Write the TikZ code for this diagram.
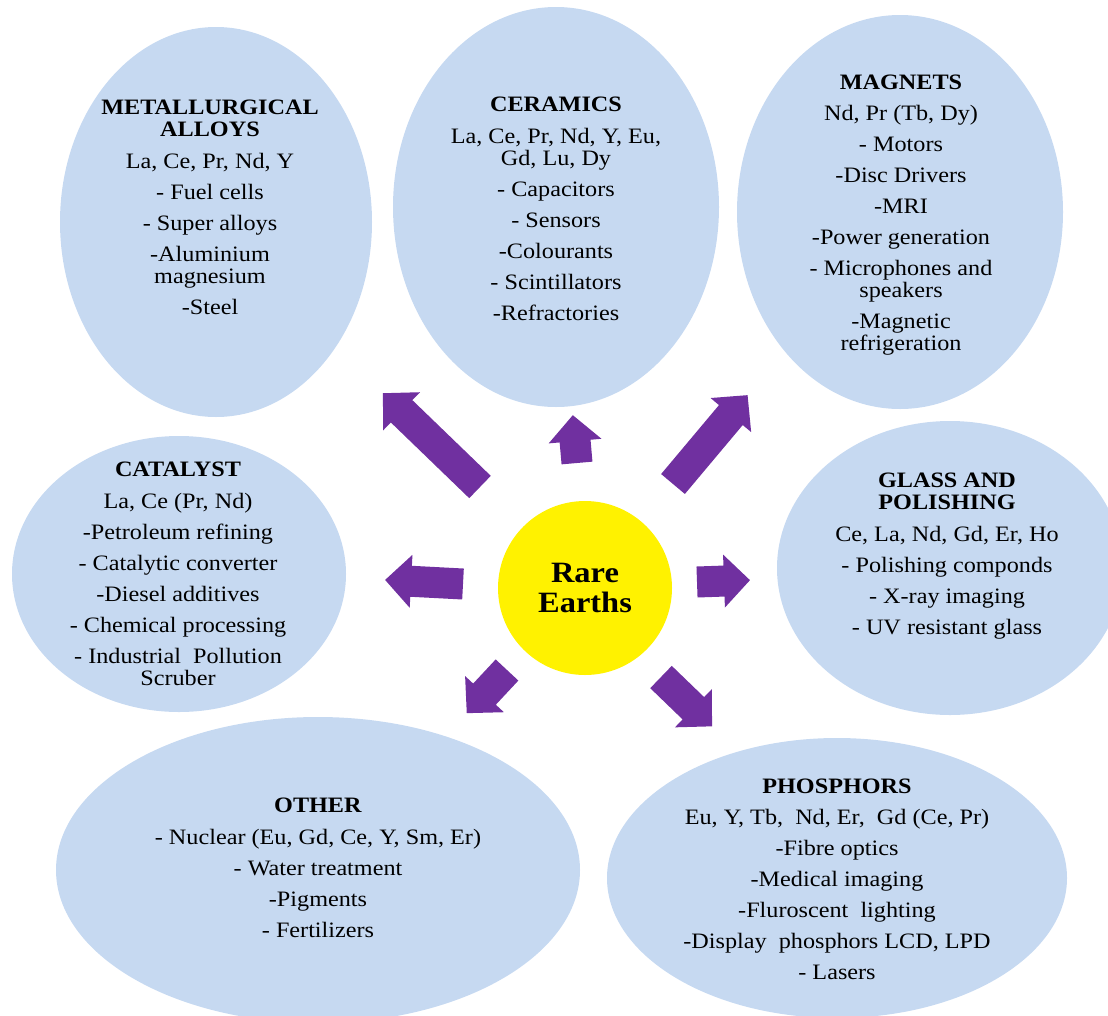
\documentclass[tikz,border=0pt]{standalone}
\usepackage{fontspec}
\setmainfont{Liberation Serif}[FakeStretch=1.1]
\usetikzlibrary{shapes.geometric}

\definecolor{bubblefill}{HTML}{C6D9F1}
\definecolor{arrowfill}{HTML}{7030A0}

% block arrow: #1 tail point, #2 direction, #3 length
\newcommand{\blockarrow}[3]{%
  \fill[arrowfill,shift={#1},rotate=#2] (0,-15.5) -- ({#3-26},-15.5) -- ({#3-26},-26.5)
    -- (#3,0) -- ({#3-26},26.5) -- ({#3-26},15.5) -- (0,15.5) -- cycle;}

\begin{document}
\begin{tikzpicture}[x=1pt,y=-1pt,
  bubble/.style={ellipse,fill=bubblefill,inner sep=0pt},
  bubbletext/.style={anchor=north,align=center,inner sep=0pt,font=\fontsize{22}{22}\selectfont},
  hub/.style={circle,fill=yellow,inner sep=0pt,minimum size=174pt,align=center,
    font=\fontsize{29.5}{30}\selectfont\bfseries}]

\useasboundingbox (0,0) rectangle (1108,1015);
\clip (0,0) rectangle (1108,1015);

% bubbles
\node[bubble,minimum width=312pt,minimum height=390pt] (metal) at (216,222) {};
\node[bubble,minimum width=326pt,minimum height=400pt] (ceram) at (556,207) {};
\node[bubble,minimum width=326pt,minimum height=394pt] (magnet) at (900,212) {};
\node[bubble,minimum width=334pt,minimum height=276pt] (catal) at (179,574) {};
\node[bubble,minimum width=346pt,minimum height=294pt] (glass) at (950,568) {};
\node[bubble,minimum width=524pt,minimum height=306pt] (other) at (318,870) {};
\node[bubble,minimum width=460pt,minimum height=280pt] (phos) at (837,878) {};

% arrows
\coordinate (a-metal) at (480,487);
\coordinate (a-ceram) at (577,463);
\coordinate (a-magnet) at (673,484);
\coordinate (a-catal) at (463,584);
\coordinate (a-glass) at (697,582);
\coordinate (a-other) at (507,670);
\coordinate (a-phos) at (661,677);
\blockarrow{(a-metal)}{136}{135}
\blockarrow{(a-ceram)}{95}{48}
\blockarrow{(a-magnet)}{50}{116}
\blockarrow{(a-catal)}{177}{78}
\blockarrow{(a-glass)}{2}{53}
\blockarrow{(a-other)}{227}{59}
\blockarrow{(a-phos)}{-44}{71}

\node[hub] (hub) at (585,588) {Rare\\Earths};

% texts
\node[bubbletext] (metal-txt) at (210,99.5) {\textbf{METALLURGICAL}\\\textbf{ALLOYS}\\[10pt]La, Ce, Pr, Nd, Y\\[9pt]- Fuel cells\\[9pt]- Super alloys\\[9pt]-Aluminium\\magnesium\\[9pt]-Steel};
\node[bubbletext] (ceram-txt) at (556,96.5) {\textbf{CERAMICS}\\[10pt]La, Ce, Pr, Nd, Y, Eu,\\Gd, Lu, Dy\\[9pt]- Capacitors\\[9pt]- Sensors\\[9pt]-Colourants\\[9pt]- Scintillators\\[9pt]-Refractories};
\node[bubbletext] (magnet-txt) at (901,74.5) {\textbf{MAGNETS}\\[9pt]Nd, Pr (Tb, Dy)\\[9pt]- Motors\\[9pt]-Disc Drivers\\[9pt]-MRI\\[9pt]-Power generation\\[9pt]- Microphones and\\speakers\\[9pt]-Magnetic\\refrigeration};
\node[bubbletext] (catal-txt) at (178,461.5) {\textbf{CATALYST}\\[10pt]La, Ce (Pr, Nd)\\[9pt]-Petroleum refining\\[9pt]- Catalytic converter\\[9pt]-Diesel additives\\[9pt]- Chemical processing\\[9pt]- Industrial\ \ Pollution\\Scruber};
\node[bubbletext] (glass-txt) at (947,472.5) {\textbf{GLASS AND}\\\textbf{POLISHING}\\[10pt]Ce, La, Nd, Gd, Er, Ho\\[9pt]- Polishing componds\\[9pt]- X-ray imaging\\[9pt]- UV resistant glass};
\node[bubbletext] (other-txt) at (318,797.5) {\textbf{OTHER}\\[10pt]- Nuclear (Eu, Gd, Ce, Y, Sm, Er)\\[9pt]- Water treatment\\[9pt]-Pigments\\[9pt]- Fertilizers};
\node[bubbletext] (phos-txt) at (837,778.5) {\textbf{PHOSPHORS}\\[9pt]Eu, Y, Tb,\ \ Nd, Er,\ \ Gd (Ce, Pr)\\[9pt]-Fibre optics\\[9pt]-Medical imaging\\[9pt]-Fluroscent\ \ lighting\\[9pt]-Display\ \ phosphors LCD, LPD\\[9pt]- Lasers};

\end{tikzpicture}
\end{document}
